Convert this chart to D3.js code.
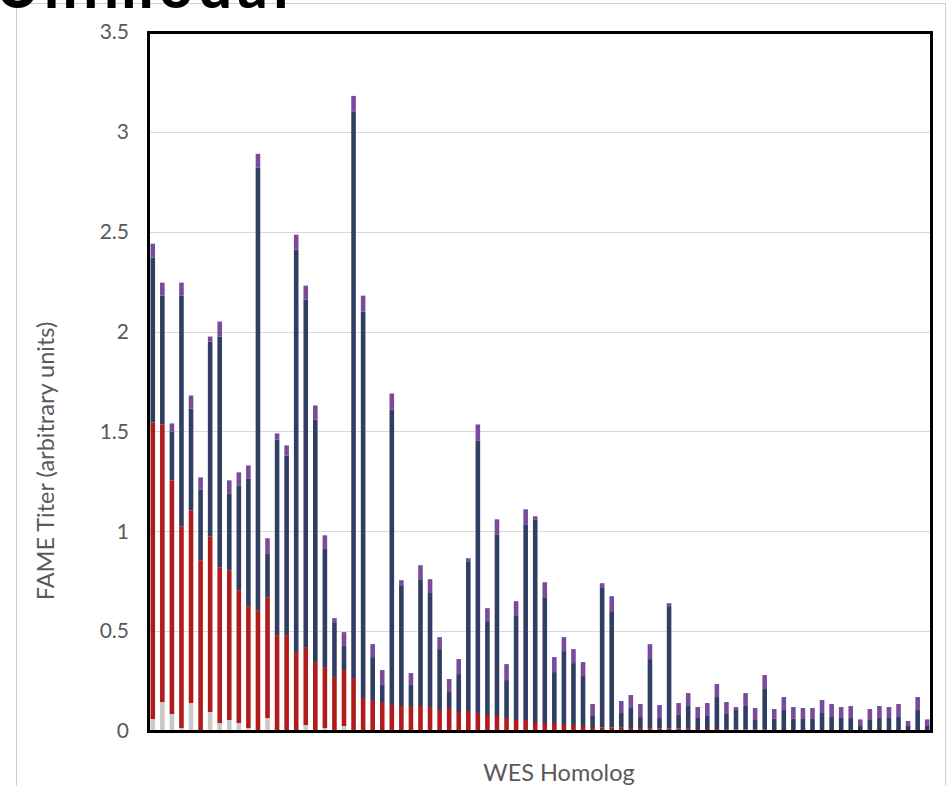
<!DOCTYPE html>
<html><head><meta charset="utf-8">
<script src="https://cdn.jsdelivr.net/npm/d3@7"></script>
<style>body{margin:0;background:#fff}svg{display:block}</style>
</head><body>
<script>
const categories = d3.range(1, 83).map(i => "WES" + i);
const gray = [0.06,0.145,0.085,0.015,0.14,0,0.095,0.04,0.055,0.04,0.015,0,0.065,0,0,0,0.03,0,0.015,0,0.025,0,0,0,0,0,0,0,0,0,0,0,0,0,0,0,0,0,0,0.005,0,0,0,0,0,0,0,0,0,0,0,0,0,0,0,0,0,0,0,0,0,0,0,0,0,0,0,0,0,0,0,0,0,0,0,0,0,0,0,0,0,0];
const red = [1.485,1.39,1.17,1.01,0.965,0.855,0.88,0.78,0.75,0.665,0.61,0.605,0.605,0.48,0.48,0.395,0.39,0.345,0.305,0.27,0.28,0.265,0.165,0.155,0.145,0.13,0.125,0.125,0.125,0.12,0.105,0.115,0.095,0.10,0.09,0.08,0.08,0.065,0.055,0.05,0.045,0.04,0.04,0.035,0.03,0.025,0.02,0.018,0.017,0.016,0.015,0.015,0.014,0.013,0.012,0.012,0.011,0.01,0.01,0.01,0.009,0.008,0.008,0.007,0.006,0.004,0.004,0.003,0.003,0.003,0.003,0.002,0.002,0.002,0.002,0.002,0.002,0.002,0.002,0.002,0.002,0.002];
const navy = [0.825,0.645,0.245,1.155,0.51,0.355,0.975,1.155,0.385,0.525,0.64,2.215,0.22,0.98,0.90,2.015,1.74,1.215,0.595,0.275,0.12,2.835,1.935,0.215,0.085,1.48,0.605,0.105,0.635,0.575,0.305,0.08,0.19,0.75,1.365,0.47,0.905,0.19,0.525,0.98,1.015,0.63,0.255,0.365,0.31,0.25,0.055,0.702,0.583,0.074,0.10,0.055,0.346,0.052,0.613,0.068,0.114,0.055,0.065,0.16,0.076,0.097,0.117,0.048,0.204,0.059,0.101,0.06,0.057,0.057,0.087,0.068,0.063,0.063,0.023,0.053,0.063,0.063,0.068,0.023,0.103,0.023];
const purple = [0.07,0.065,0.04,0.065,0.065,0.06,0.025,0.075,0.065,0.065,0.065,0.07,0.075,0.03,0.05,0.075,0.07,0.07,0.065,0.02,0.07,0.08,0.08,0.065,0.075,0.08,0.025,0.06,0.07,0.065,0.06,0.065,0.075,0.015,0.08,0.065,0.075,0.08,0.07,0.075,0.015,0.075,0.075,0.07,0.07,0.07,0.06,0.02,0.075,0.06,0.065,0.065,0.075,0.065,0.015,0.06,0.065,0.055,0.065,0.065,0.06,0.015,0.065,0.06,0.07,0.047,0.065,0.057,0.055,0.055,0.065,0.065,0.055,0.06,0.033,0.055,0.06,0.055,0.065,0.025,0.065,0.033];
const yTicks = [0, 0.5, 1, 1.5, 2, 2.5, 3, 3.5];
const seriesNames = ["gray", "red", "navy", "purple"];
const colors = {gray: "#c9c9c9", red: "#b01b1b", navy: "#2f3e62", purple: "#7a4a9c"};

const W = 949, H = 786;
const m = {left: 148, right: 17, top: 32, bottom: 54};
const svg = d3.select("body").append("svg").attr("width", W).attr("height", H);

// outer faint frame
svg.append("line").attr("x1", 16).attr("x2", 946).attr("y1", 3.5).attr("y2", 3.5).attr("stroke", "#d0d0d0").attr("stroke-width", 1);
svg.append("line").attr("x1", 16.5).attr("x2", 16.5).attr("y1", 3).attr("y2", H).attr("stroke", "#d0d0d0").attr("stroke-width", 1);
svg.append("line").attr("x1", 945.5).attr("x2", 945.5).attr("y1", 3).attr("y2", H).attr("stroke", "#d0d0d0").attr("stroke-width", 1);

// cropped heading remnant at top (only its lower edge is in view, as in the source)
svg.append("text").attr("x", -4).attr("y", 8).attr("font-family", "Lato, sans-serif")
  .attr("font-weight", 900).attr("font-size", 58).attr("letter-spacing", 6).attr("fill", "#000").text("Unimodal");

const data = categories.map((c, i) => ({cat: c, gray: gray[i], red: red[i], navy: navy[i], purple: purple[i]}));
const stack = d3.stack().keys(seriesNames)(data);

const x = d3.scaleBand().domain(categories).range([m.left, W - m.right]).paddingInner(0.52).paddingOuter(0.26);
const y = d3.scaleLinear().domain([0, 3.5]).range([H - m.bottom - 1, m.top]);

// grid
svg.append("g").selectAll("line").data(yTicks.slice(1, -1)).join("line")
  .attr("x1", m.left).attr("x2", W - m.right)
  .attr("y1", d => Math.round(y(d)) + 0.5).attr("y2", d => Math.round(y(d)) + 0.5)
  .attr("stroke", "#d9d9d9").attr("stroke-width", 1);

// bars
svg.append("g").selectAll("g").data(stack).join("g")
  .attr("fill", d => colors[d.key])
  .selectAll("rect").data(d => d).join("rect")
  .attr("x", d => x(d.data.cat))
  .attr("width", x.bandwidth())
  .attr("y", d => y(d[1]))
  .attr("height", d => Math.max(0, y(d[0]) - y(d[1])));

// y axis labels
const yAxis = d3.axisLeft(y).tickValues(yTicks).tickSize(0).tickPadding(19).tickFormat(d3.format("~g"));
const ga = svg.append("g").attr("transform", `translate(${m.left},0)`).call(yAxis);
ga.select(".domain").remove();
ga.selectAll("text").attr("font-family", "Lato, sans-serif").attr("font-size", 21).attr("fill", "#595959");

// frame
svg.append("rect").attr("x", m.left + 0.5).attr("y", m.top + 0.5)
  .attr("width", W - m.right - m.left - 1).attr("height", H - m.bottom - m.top - 1)
  .attr("fill", "none").attr("stroke", "#000").attr("stroke-width", 3);

// titles
svg.append("text").attr("transform", "translate(54,461) rotate(-90)").attr("text-anchor", "middle")
  .attr("font-family", "Lato, sans-serif").attr("font-size", 23.5).attr("fill", "#595959")
  .text("FAME Titer (arbitrary units)");
svg.append("text").attr("x", 559).attr("y", 781).attr("text-anchor", "middle")
  .attr("font-family", "Lato, sans-serif").attr("font-size", 23.5).attr("fill", "#595959")
  .text("WES Homolog");
</script>
</body></html>
